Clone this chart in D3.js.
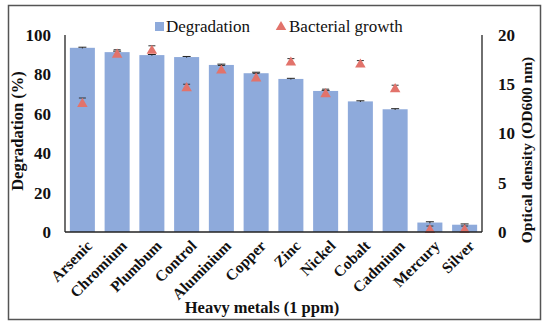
<!DOCTYPE html>
<html>
<head>
<meta charset="utf-8">
<script src="https://cdn.jsdelivr.net/npm/d3@7"></script>
<style>
  body { margin: 0; background: #fff; }
</style>
</head>
<body>
<div id="chart"></div>
<script>
// chart data
const metals = ["Arsenic", "Chromium", "Plumbum", "Control", "Aluminium", "Copper",
  "Zinc", "Nickel", "Cobalt", "Cadmium", "Mercury", "Silver"];
const degradation = [93.5, 91.3, 89.8, 88.8, 84.8, 80.6, 77.7, 71.6, 66.3, 62.3, 4.8, 3.7];
const degradationErr = [0.3, 0.5, 0.3, 0.3, 0.4, 0.5, 0.3, 0.3, 0.3, 0.3, 0.4, 0.4];
const growth = [13.0, 18.0, 18.4, 14.6, 16.4, 15.6, 17.2, 14.0, 17.0, 14.5, 0.2, 0.2];
const growthErr = [0.4, 0.3, 0.3, 0.2, 0.3, 0.3, 0.2, 0.3, 0.2, 0.2, 0.2, 0.2];
const leftTicks = [0, 20, 40, 60, 80, 100];
const rightTicks = [0, 5, 10, 15, 20];

const svgWidth = 550;
const svgHeight = 328;
const serif = "'Liberation Serif', 'Times New Roman', serif";

const margin = { top: 35, right: 68, bottom: 96, left: 65 };
const width = svgWidth - margin.left - margin.right;
const height = svgHeight - margin.top - margin.bottom;

const barColor = "#8eaadb";
const triColor = "#e2736b";

const svg = d3.select("#chart")
  .append("svg")
  .attr("width", svgWidth)
  .attr("height", svgHeight)
  .attr("font-family", serif);

// outer frame
svg.append("rect")
  .attr("x", 8.5)
  .attr("y", 5.5)
  .attr("width", 532)
  .attr("height", 314)
  .attr("fill", "none")
  .attr("stroke", "#555")
  .attr("stroke-width", 1.5);

const chartGroup = svg.append("g")
  .attr("transform", `translate(${margin.left}, ${margin.top})`);

const x = d3.scaleBand()
  .domain(metals)
  .range([0, width])
  .paddingInner(0.28)
  .paddingOuter(0.14);

const yLeft = d3.scaleLinear().domain([0, 100]).range([height, 0]);
const yRight = d3.scaleLinear().domain([0, 20]).range([height, 0]);

const rows = metals.map((m, i) => ({
  metal: m, deg: degradation[i], degErr: degradationErr[i],
  gr: growth[i], grErr: growthErr[i]
}));

// bars
chartGroup.selectAll(".bar")
  .data(rows)
  .enter()
  .append("rect")
  .attr("class", "bar")
  .attr("x", d => x(d.metal))
  .attr("y", d => yLeft(d.deg))
  .attr("width", x.bandwidth())
  .attr("height", d => height - yLeft(d.deg))
  .attr("fill", barColor);

// bar error bars
const barErr = chartGroup.selectAll(".barErr")
  .data(rows)
  .enter()
  .append("g")
  .attr("transform", d => `translate(${x(d.metal) + x.bandwidth() / 2}, 0)`);
barErr.append("line")
  .attr("y1", d => yLeft(d.deg + d.degErr))
  .attr("y2", d => yLeft(d.deg - d.degErr))
  .attr("stroke", "#222");
barErr.append("line")
  .attr("x1", -4).attr("x2", 4)
  .attr("y1", d => yLeft(d.deg + d.degErr))
  .attr("y2", d => yLeft(d.deg + d.degErr))
  .attr("stroke", "#222");

// triangles
const tri = d3.symbol().type(d3.symbolTriangle).size(48);
const triGroup = chartGroup.selectAll(".tri")
  .data(rows)
  .enter()
  .append("g")
  .attr("transform", d => `translate(${x(d.metal) + x.bandwidth() / 2}, 0)`);
triGroup.append("line")
  .attr("x1", -3.5).attr("x2", 3.5)
  .attr("y1", d => yRight(d.gr + d.grErr) - 2)
  .attr("y2", d => yRight(d.gr + d.grErr) - 2)
  .attr("stroke", "#333");
triGroup.append("path")
  .attr("d", tri)
  .attr("transform", d => `translate(0, ${yRight(d.gr)})`)
  .attr("fill", triColor);

// axes
const leftAxis = d3.axisLeft(yLeft).tickValues(leftTicks).tickSize(0).tickPadding(14);
const rightAxis = d3.axisRight(yRight).tickValues(rightTicks).tickSize(0).tickPadding(16);
const bottomAxis = d3.axisBottom(x).tickSize(0).tickPadding(6);

const yAxisL = chartGroup.append("g").call(leftAxis);
const yAxisR = chartGroup.append("g")
  .attr("transform", `translate(${width}, 0)`)
  .call(rightAxis);
const xAxis = chartGroup.append("g")
  .attr("transform", `translate(0, ${height})`)
  .call(bottomAxis);

[yAxisL, yAxisR, xAxis].forEach(a => {
  a.attr("font-family", serif);
  a.select(".domain").attr("stroke", "#222").attr("stroke-width", 1.3);
  a.selectAll("text")
    .attr("font-family", serif)
    .attr("font-weight", "bold")
    .attr("font-size", "17px")
    .attr("fill", "#111");
});
yAxisL.select(".domain").attr("d", `M0,0V${height}`);
yAxisR.select(".domain").attr("d", `M0,0V${height}`);
xAxis.select(".domain").attr("d", `M0,0H${width}`);

xAxis.selectAll("text")
  .attr("font-size", "15.5px")
  .attr("text-anchor", "end")
  .attr("dy", "0.6em")
  .attr("transform", "translate(0, 4) rotate(-45)");

// axis titles
svg.append("text")
  .attr("transform", `translate(23, 131) rotate(-90)`)
  .attr("text-anchor", "middle")
  .attr("font-family", serif)
  .attr("font-weight", "bold")
  .attr("font-size", "16.5px")
  .attr("fill", "#111")
  .text("Degradation (%)");

svg.append("text")
  .attr("transform", `translate(532, 150) rotate(-90)`)
  .attr("text-anchor", "middle")
  .attr("font-family", serif)
  .attr("font-weight", "bold")
  .attr("font-size", "15.5px")
  .attr("fill", "#111")
  .text("Optical density (OD600 nm)");

svg.append("text")
  .attr("x", 262)
  .attr("y", 313)
  .attr("text-anchor", "middle")
  .attr("font-family", serif)
  .attr("font-weight", "bold")
  .attr("font-size", "16.5px")
  .attr("fill", "#111")
  .text("Heavy metals (1 ppm)");

// legend
const legend = svg.append("g")
  .attr("font-family", serif)
  .attr("font-size", "17px")
  .attr("fill", "#111");
legend.append("rect")
  .attr("x", 155).attr("y", 22).attr("width", 9).attr("height", 9)
  .attr("fill", barColor);
legend.append("text")
  .attr("x", 166).attr("y", 32)
  .text("Degradation");
legend.append("path")
  .attr("d", tri)
  .attr("transform", "translate(281, 27)")
  .attr("fill", triColor);
legend.append("text")
  .attr("x", 289).attr("y", 32)
  .text("Bacterial growth");
</script>
</body>
</html>
